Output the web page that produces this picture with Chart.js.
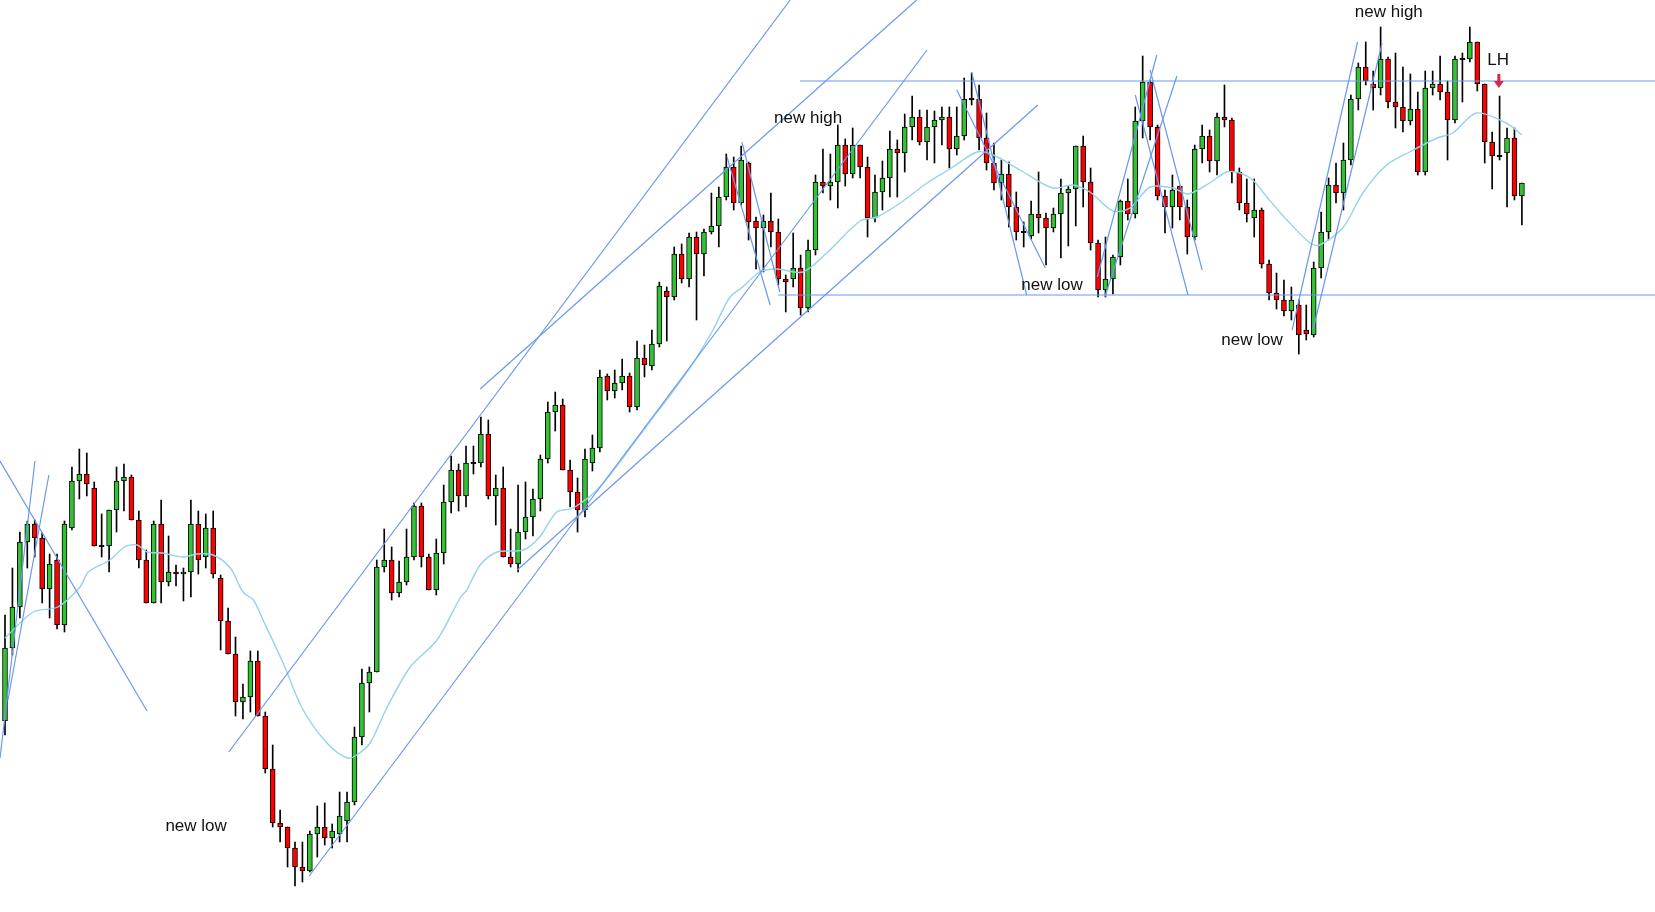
<!DOCTYPE html>
<html>
<head>
<meta charset="utf-8">
<script src="https://cdn.jsdelivr.net/npm/chart.js@4"></script>
<style>
  html, body { margin: 0; padding: 0; background: #fff; }
  canvas { display: block; }
</style>
</head>
<body>
<canvas id="chart" width="1655" height="912"></canvas>
<script>
// OHLC levels (chart level units, axis reversed: smaller = higher)
const open = [
  721,648,607,542,524,538,589,560,625,528, 481,474,488,546,546,510,481,477,520,560,
  603,524,582,572,574,572,524,557,528,578, 621,654,702,697,661,716,769,823,827,848,
  867,871,834,827,838,834,821,802,737,683, 672,567,560,593,582,557,506,557,590,553,
  502,470,496,463,463,434,496,488,557,564, 532,517,499,459,412,405,470,492,510,463,
  448,376,391,383,376,407,358,366,344,291, 297,254,279,237,254,232,226,197,167,203,
  163,221,228,221,232,279,279,268,308,250, 182,186,182,145,174,145,167,218,192,178,
  149,153,127,117,142,127,120,117,149,136, 99,99,138,163,183,174,207,232,236,214,
  218,228,214,193,189,146,182,243,290,279, 257,201,214,121,82,127,196,207,186,207,
  237,149,136,161,117,120,172,203,218,210, 264,293,300,311,305,330,335,268,232,185,
  193,160,99,67,84,88,59,102,107,121, 109,172,88,84,92,120,59,59,42,84,
  142,156,153,138,196
];
const high = [
  615,568,532,521,520,533,554,554,521,467, 449,453,482,514,510,467,464,475,511,550,
  521,500,536,565,568,500,511,514,511,575, 608,637,684,651,651,712,745,810,827,842,
  842,831,806,803,824,792,792,727,669,667, 560,529,547,561,529,503,503,554,539,485,
  456,464,446,446,417,420,475,467,529,485, 482,489,455,402,392,399,460,478,449,435,
  370,374,370,359,373,341,345,330,282,287, 247,244,233,232,229,193,187,154,157,146,
  162,217,215,193,219,275,233,255,240,175, 149,154,125,139,128,145,157,175,161,131,
  140,114,96,110,110,111,107,107,107,78, 73,85,113,143,160,162,192,222,201,172,
  213,208,179,186,146,136,168,240,237,255, 200,179,107,56,80,125,190,175,186,200,
  145,125,130,113,85,118,168,179,179,208, 260,273,280,287,300,305,262,212,178,163,
  143,95,63,42,71,27,57,53,67,74, 92,71,71,56,81,56,53,27,42,84,
  132,96,128,128,183
];
const low = [
  735,655,618,568,557,603,618,629,632,530, 499,496,546,557,572,532,511,520,568,603,
  603,603,586,586,601,597,574,568,578,650, 654,716,719,712,716,773,827,842,867,886,
  882,872,857,845,848,842,842,805,745,712, 672,572,600,597,585,560,567,570,595,564,
  513,511,507,474,467,499,525,557,567,572, 539,536,511,463,431,470,507,532,517,471,
  452,400,398,390,412,410,377,370,347,341, 300,283,287,320,276,234,247,200,210,205,
  240,269,272,247,285,312,287,315,312,255, 193,200,208,186,178,178,237,222,210,197,
  197,172,140,145,160,163,145,168,155,140, 105,150,170,190,200,227,240,247,239,233,
  265,232,258,246,226,207,250,297,297,294, 265,220,218,138,140,200,233,228,220,254,
  240,163,172,175,127,183,210,222,237,268, 300,309,316,320,354,340,337,278,240,203,
  210,165,110,85,110,95,108,128,132,125, 175,175,95,100,160,123,102,62,91,163,
  189,160,207,200,225
];
const close = [
  648,607,542,524,538,589,564,625,524,481, 474,484,546,546,510,481,477,520,560,603,
  524,582,572,574,572,524,560,528,574,621, 654,702,697,661,716,769,823,827,848,867,
  871,834,827,838,831,816,802,737,683,672, 567,560,593,582,557,506,557,590,553,502,
  470,496,463,463,434,496,488,557,564,532, 517,499,459,412,405,470,492,510,459,448,
  377,391,383,376,407,358,365,344,286,297, 254,279,237,254,232,226,197,167,203,160,
  222,228,221,232,279,282,268,308,250,182, 186,182,145,174,145,167,218,192,178,149,
  153,127,117,142,127,120,117,149,136,99, 99,138,163,183,174,207,232,232,214,218,
  228,214,193,189,146,182,243,290,279,257, 201,214,121,82,127,196,207,190,207,237,
  149,136,161,117,120,172,203,214,210,264, 293,300,311,300,335,334,268,232,185,193,
  160,99,67,81,88,59,102,107,121,109, 172,88,84,92,120,59,59,42,84,142,
  156,156,138,196,183
];

// moving average, read at sample bars
const maBar = [0,3.8,7.1,10.1,11.2,14.1,16.1,17.8,19.1,21.2,23.9,25.8,28,30.3,32,33.4,34.7,37.4,40.1,43.3,
  46,47.3,49.1,51.4,54.5,58.1,61.2,62.1,63.9,66.2,69.7,71.9,74.2,76.4,80,86.1,92.1,95.2,97.5,99.2,
  101.5,103.8,107.3,110.5,115,117.3,120.4,124,127.5,130.7,132.9,136.5,140.9,143.6,145.9,149,151.3,154,157.1,159.1,
  162,164.3,166.1,167.8,169.7,172.4,175.5,176.8,179.9,182.6,185.8,188.9,192.6,194.7,197.9,201.9,204];
const maLevel = [638,612,607,587,572,560,547,545,552,553,557,554,555,568,592,600,620,663,710,743,
  758,755,743,707,667,640,598,590,565,552,550,537,512,508,487,428,368,330,297,287,
  272,269,272,253,221,217,203,183,167,152,155,170,188,185,192,211,208,187,188,194,
  183,172,173,180,197,220,243,245,228,193,165,152,138,133,113,123,135];

// trend lines: [bar0, level0, bar1, level1]
const trendLines = [
  [-0.67,461,19.1,711], [-0.67,758,4.03,461], [0.4,700,5.9,475],
  [30.1,752,105.6,0], [63.9,389,122.6,0], [40.9,876,124,50], [68.9,570,138.9,105],
  [97.1,157,102.9,305], [99.1,142,104.2,292],
  [128,90,139.9,268], [130,72,137.4,295],
  [146.9,277,154.9,55], [147.9,297,157.6,76], [152,95,159.1,295], [154,70,161,270],
  [173.1,330,181.9,42], [175.9,330,185.2,43],
  [106.9,81,222,81], [104,295,222,295]
];

const labelText = ['new low', 'new high', 'new low', 'new low', 'new high', 'LH'];
const labelBar = [25.7, 108, 140.8, 167.7, 186.1, 200.8];
const labelLevel = [826, 118, 285, 340, 12, 60];
const arrowBar = 200.9;

const bars = open.map((o, i) => i);
const bodyData = bars.map(i => {
  const o = open[i], c = close[i];
  return Math.abs(o - c) < 1 ? { x: i, y: [c - 0.6, c + 0.6] } : { x: i, y: [o, c] };
});
const bodyColors = bars.map(i => {
  if (Math.abs(open[i] - close[i]) < 1) return '#000';
  return close[i] > open[i] ? '#ff0000' : '#33c233';
});
const wickData = bars.map(i => ({
  x: i,
  y: [Math.min(high[i], open[i], close[i]), Math.max(low[i], open[i], close[i])]
}));

const lineSets = trendLines.map(t => ({
  type: 'line',
  data: [{ x: t[0], y: t[1] }, { x: t[2], y: t[3] }],
  borderColor: '#6a98ee',
  borderWidth: 1.2,
  pointRadius: 0,
  fill: false
}));

const maSet = {
  type: 'line',
  data: maBar.map((b, i) => ({ x: b, y: maLevel[i] })),
  borderColor: '#93d3ee',
  borderWidth: 1.4,
  pointRadius: 0,
  tension: 0.3,
  fill: false
};

const labelsPlugin = {
  id: 'labels',
  afterDatasetsDraw(chart) {
    const { ctx, scales } = chart;
    ctx.save();
    ctx.font = '17px "Liberation Sans", Arial, sans-serif';
    ctx.fillStyle = '#111';
    ctx.textAlign = 'center';
    ctx.textBaseline = 'middle';
    labelText.forEach((t, i) => {
      ctx.fillText(t, scales.x.getPixelForValue(labelBar[i]), scales.y.getPixelForValue(labelLevel[i]));
    });
    // LH arrow
    const ax = scales.x.getPixelForValue(arrowBar);
    const ay = scales.y.getPixelForValue(74);
    ctx.fillStyle = '#d8284c';
    ctx.fillRect(ax - 1.5, ay, 3, 8);
    ctx.beginPath();
    ctx.moveTo(ax - 5, ay + 7);
    ctx.lineTo(ax + 5, ay + 7);
    ctx.lineTo(ax, ay + 14);
    ctx.closePath();
    ctx.fill();
    ctx.restore();
  }
};

new Chart(document.getElementById('chart'), {
  data: {
    datasets: [
      ...lineSets,
      maSet,
      {
        type: 'bar',
        data: bodyData,
        backgroundColor: bodyColors,
        borderColor: '#000',
        borderWidth: 1,
        borderSkipped: false,
        barThickness: 5,
        grouped: false
      },
      {
        type: 'bar',
        data: wickData,
        backgroundColor: '#000',
        borderWidth: 0,
        barThickness: 1,
        grouped: false
      }
    ]
  },
  options: {
    responsive: false,
    animation: false,
    devicePixelRatio: 1,
    layout: { padding: 0 },
    plugins: { legend: { display: false }, tooltip: { enabled: false } },
    scales: {
      x: { type: 'linear', min: -0.672, max: 221.9, offset: false, display: false },
      y: { type: 'linear', min: 0, max: 912, reverse: true, display: false }
    }
  },
  plugins: [labelsPlugin]
});
</script>
</body>
</html>
